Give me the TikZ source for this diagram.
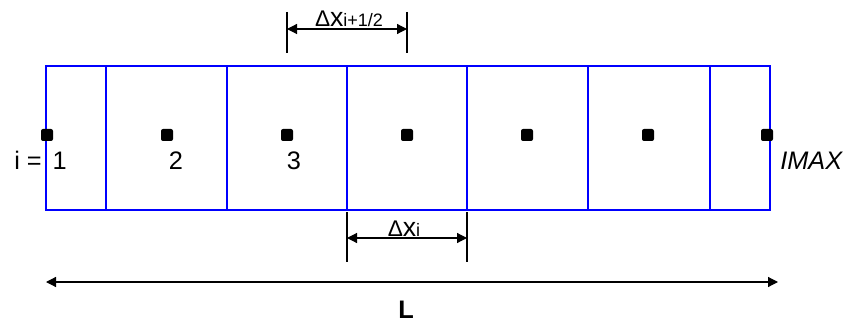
\documentclass[tikz,border=0pt]{standalone}
\usepackage{fontspec}
\setmainfont{Liberation Sans}
\usetikzlibrary{arrows.meta, positioning, calc}

\newcommand{\dxlabel}[1]{{\fontsize{17}{17}\selectfont Δ}{\fontsize{20}{20}\selectfont x}{\fontsize{13.5}{14}\selectfont #1}}

\begin{document}
\begin{tikzpicture}[
    x=0.75pt, y=-0.75pt,
    cellwall/.style={draw=blue, line width=0.9pt},
    centre/.style={rectangle, fill=black, minimum size=9pt, inner sep=0pt, rounded corners=1.5pt},
    tickline/.style={draw=black, line width=0.8pt},
    dimarrow/.style={{Triangle[length=7.5pt,width=7.5pt]}-{Triangle[length=7.5pt,width=7.5pt]}, line width=0.9pt},
    idx/.style={font=\fontsize{19}{19}\selectfont, inner sep=0pt, anchor=base},
]
\useasboundingbox (0,0) rectangle (845,324);

% control volumes
\draw[cellwall] (46,66) rectangle (770,210);
\foreach \x in {106,227,347,467,588,710}
    \draw[cellwall] (\x,66) -- (\x,210);

% cell centres
\foreach \x [count=\i] in {47,167,287,407,527,648,767}
    \node[centre] (c\i) at (\x,135) {};

\node[idx, anchor=base west] (i1) at (14,170) {i =\hspace{3pt} 1};
\node[idx] (i2) at (176,170) {2};
\node[idx] (i3) at (294,170) {3};
\node[idx, anchor=base west] (imax) at (780,170) {\itshape IMAX};

% distance between centres
\coordinate (ta) at (287,12);
\coordinate (tb) at (407,12);
\draw[tickline] (ta) -- ++(0,41);
\draw[tickline] (tb) -- ++(0,41);
\coordinate (ta1) at (287,29);
\coordinate (tb1) at (407,29);
\draw[dimarrow] (ta1) -- (tb1);
\node[inner sep=0pt, anchor=base] (dxhalf) at (349,27) {\dxlabel{i+1/2}};

% cell width
\coordinate (ba) at (347,212);
\coordinate (bb) at (467,212);
\draw[tickline] (ba) -- ++(0,50);
\draw[tickline] (bb) -- ++(0,50);
\coordinate (ba1) at (347,238);
\coordinate (bb1) at (467,238);
\draw[dimarrow] (ba1) -- (bb1);
\node[inner sep=0pt, anchor=base] (dx) at (404,236) {\dxlabel{i}};

% domain length
\coordinate (la) at (46,282);
\coordinate (lb) at (778,282);
\draw[dimarrow] (la) -- (lb);
\node[idx, font=\fontsize{19}{19}\selectfont\bfseries] (len) at (406,318) {L};
\end{tikzpicture}
\end{document}
